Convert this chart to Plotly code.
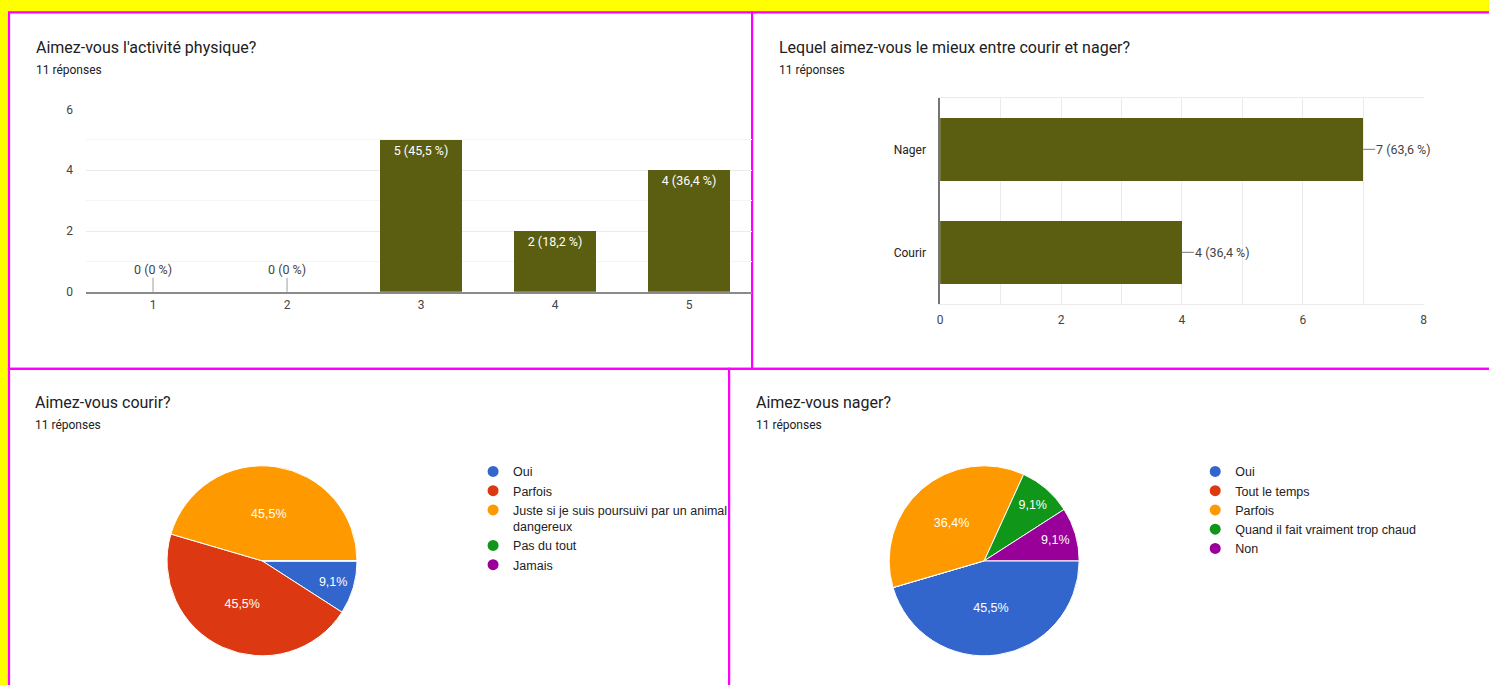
import plotly.graph_objects as go

W, H = 1489, 685

# ---------------- data ----------------
q1_title = "Aimez-vous l'activité physique?"
q1_cats = [1, 2, 3, 4, 5]
q1_vals = [0, 0, 5, 2, 4]

q2_title = "Lequel aimez-vous le mieux entre courir et nager?"
q2_cats = ["Courir", "Nager"]
q2_vals = [4, 7]

q3_title = "Aimez-vous courir?"
q3_labels = ["Oui", "Parfois", "Juste si je suis poursuivi par un animal<br>dangereux", "Pas du tout", "Jamais"]
q3_vals = [1, 5, 5, 0, 0]

q4_title = "Aimez-vous nager?"
q4_labels = ["Oui", "Tout le temps", "Parfois", "Quand il fait vraiment trop chaud", "Non"]
q4_vals = [5, 0, 4, 1, 1]

n_resp = 11
subtitle = "11 réponses"
pie_colors = ["#3366cc", "#dc3912", "#ff9900", "#109618", "#990099"]
bar_color = "#5b5e11"


def fx(px):
    return ((px - 3.0) / 0.9958) / W


def fy(py):
    return 1 - ((py - 5.2) / 0.981) / H


def pct(v, n, space=True):
    p = round(v / n * 100, 1)
    s = ("%.1f" % p).rstrip("0").rstrip(".").replace(".", ",")
    return s + (" %" if space else "%")


def bar_label(v):
    return f"{v} ({pct(v, n_resp)})"


fig = go.Figure()

# ---------- chart 1 : vertical bars ----------
fig.add_trace(go.Bar(
    x=q1_cats, y=q1_vals, width=0.61,
    marker=dict(color=bar_color, line=dict(width=0)),
    text=[bar_label(v) if v > 0 else "" for v in q1_vals],
    textposition="inside", insidetextanchor="end", textangle=0,
    textfont=dict(color="white", size=12.5, family="Roboto"),
    xaxis="x", yaxis="y", showlegend=False, hoverinfo="skip",
))

# ---------- chart 2 : horizontal bars ----------
fig.add_trace(go.Bar(
    y=q2_cats, x=q2_vals, orientation="h", width=0.62,
    marker=dict(color=bar_color, line=dict(width=0)),
    xaxis="x2", yaxis="y2", showlegend=False, hoverinfo="skip",
))

# ---------- pies ----------
def pie_text(vals):
    tot = sum(vals)
    return [pct(v, tot, space=False) if v > 0 else "" for v in vals]


fig.add_trace(go.Pie(
    labels=q3_labels, values=q3_vals, sort=False, direction="clockwise", rotation=90,
    marker=dict(colors=pie_colors, line=dict(color="white", width=1)),
    text=pie_text(q3_vals), textinfo="text", textposition="inside",
    insidetextorientation="horizontal",
    textfont=dict(color="white", size=12.5, family="Arial, Liberation Sans"),
    domain=dict(x=[fx(167), fx(357)], y=[fy(655), fy(465)]),
    showlegend=False, hoverinfo="label+percent",
))
fig.add_trace(go.Pie(
    labels=q4_labels, values=q4_vals, sort=False, direction="clockwise", rotation=90,
    marker=dict(colors=pie_colors, line=dict(color="white", width=1)),
    text=pie_text(q4_vals), textinfo="text", textposition="inside",
    insidetextorientation="horizontal",
    textfont=dict(color="white", size=12.5, family="Arial, Liberation Sans"),
    domain=dict(x=[fx(889), fx(1079)], y=[fy(655), fy(465)]),
    showlegend=False, hoverinfo="label+percent",
))

# legend entries (circle markers) for pies
for lab, col in zip(q3_labels, pie_colors):
    fig.add_trace(go.Scatter(x=[None], y=[None], mode="markers", name=lab,
                             marker=dict(color=col, size=11, symbol="circle"),
                             xaxis="x", yaxis="y", legend="legend", showlegend=True))
for lab, col in zip(q4_labels, pie_colors):
    fig.add_trace(go.Scatter(x=[None], y=[None], mode="markers", name=lab,
                             marker=dict(color=col, size=11, symbol="circle"),
                             xaxis="x", yaxis="y", legend="legend2", showlegend=True))

# ---------- annotations ----------
ann = []
tick_font = dict(family="Roboto", size=12, color="#444444")
for (title, tx, ty) in [(q1_title, 34, 47), (q2_title, 777, 47), (q3_title, 33, 402), (q4_title, 754, 402)]:
    ann.append(dict(text=title, x=fx(tx), y=fy(ty), xref="paper", yref="paper",
                    xanchor="left", yanchor="middle", showarrow=False,
                    font=dict(family="Roboto", size=16, color="#202124")))
    ann.append(dict(text=subtitle, x=fx(tx), y=fy(ty + 22), xref="paper", yref="paper",
                    xanchor="left", yanchor="middle", showarrow=False,
                    font=dict(family="Roboto", size=12, color="#202124")))

# zero-value bar labels with stem
for c, v in zip(q1_cats, q1_vals):
    if v == 0:
        ann.append(dict(text=bar_label(v), x=c, y=v, xref="x", yref="y",
                        showarrow=True, arrowhead=0, arrowwidth=1, arrowcolor="#9e9e9e",
                        ax=0, ay=-14, yanchor="bottom", standoff=0, borderpad=0,
                        font=dict(family="Roboto", size=12.5, color="#444444")))

# horizontal bar labels with stem
for c, v in zip(q2_cats, q2_vals):
    ann.append(dict(text=bar_label(v), x=v, y=c, xref="x2", yref="y2",
                    showarrow=True, arrowhead=0, arrowwidth=1, arrowcolor="#777777",
                    ax=12, ay=0, xanchor="left", standoff=0, borderpad=0,
                    font=dict(family="Roboto", size=12.5, color="#444444")))

# ---------- panels ----------
mag = "#ff00ff"
shapes = []
for (x0, y0, x1, y1) in [(9, 11.5, 752, 368), (752, 11.5, 1510, 368), (9, 368, 729, 720), (729, 368, 1510, 720)]:
    shapes.append(dict(type="rect", xref="paper", yref="paper",
                       x0=fx(x0), x1=fx(x1), y0=fy(y1), y1=fy(y0),
                       fillcolor="white", line=dict(color=mag, width=2.2), layer="below"))

fig.update_layout(
    width=W, height=H, margin=dict(l=0, r=0, t=0, b=0),
    paper_bgcolor="#ffff00", plot_bgcolor="rgba(0,0,0,0)",
    shapes=shapes, annotations=ann, bargap=0,
    xaxis=dict(domain=[fx(86), fx(752)], range=[0.5, 5.47], tickvals=q1_cats,
               showgrid=False, showline=True, linecolor="#8a8a8a", linewidth=1.5,
               zeroline=False, tickfont=tick_font, ticks="", ticklabelstandoff=1,
               fixedrange=True),
    yaxis=dict(domain=[fy(291), fy(108)], range=[0, 6.02], dtick=2, showgrid=True,
               gridcolor="#ebebeb", zeroline=False, tickfont=tick_font,
               ticklabelstandoff=12, showline=False,
               minor=dict(dtick=1, showgrid=True, gridcolor="#f4f4f4"),
               fixedrange=True),
    xaxis2=dict(domain=[fx(940), fx(1424)], range=[0, 8.01], dtick=2, showgrid=True,
                gridcolor="#ebebeb", zeroline=False, tickfont=tick_font,
                minor=dict(dtick=1, showgrid=True, gridcolor="#ebebeb"),
                showline=True, linecolor="#ebebeb", mirror=True,
                ticklabelstandoff=5, anchor="y2", fixedrange=True),
    yaxis2=dict(domain=[fy(303), fy(97)], range=[-0.5, 1.5], type="category",
                categoryorder="array", categoryarray=q2_cats,
                showgrid=False, zeroline=False, showline=True, linecolor="#757575",
                linewidth=1.5, anchor="x2",
                tickfont=dict(family="Roboto", size=12, color="#222222"),
                ticklabelstandoff=10, fixedrange=True),
    legend=dict(x=fx(473), y=fy(456), xanchor="left", yanchor="top",
                bgcolor="rgba(0,0,0,0)", valign="top", tracegroupgap=0,
                font=dict(family="Arial, Liberation Sans", size=12.5, color="#222222")),
    legend2=dict(x=fx(1195), y=fy(456), xanchor="left", yanchor="top",
                 bgcolor="rgba(0,0,0,0)", valign="top", tracegroupgap=0,
                 font=dict(family="Arial, Liberation Sans", size=12.5, color="#222222")),
)

fig.write_html(
    "out.html",
    config={"displayModeBar": False},
    post_script="document.body.style.margin='0';document.body.style.padding='0';"
                "document.body.style.overflow='hidden';"
                "document.documentElement.style.overflow='hidden';",
)
